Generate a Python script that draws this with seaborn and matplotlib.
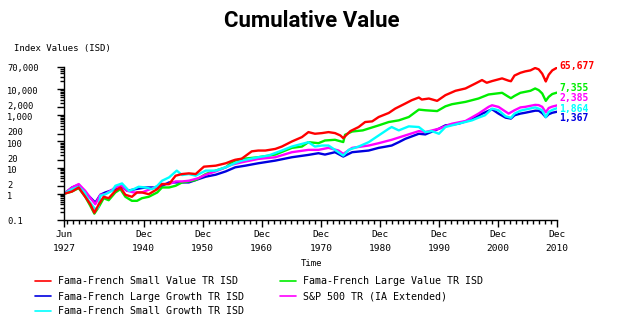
import numpy as np
import pandas as pd
import matplotlib
matplotlib.use("Agg")
import matplotlib.pyplot as plt
from matplotlib.lines import Line2D
from matplotlib.ticker import FixedLocator, FixedFormatter, NullFormatter
from matplotlib.transforms import ScaledTranslation
import seaborn as sns

# ---------------- data ----------------
sv_years = [1927.5, 1928.86, 1929.99, 1931.1, 1931.96, 1932.64, 1933.4, 1934.22, 1935.07, 1936.2,
            1937.05, 1937.9, 1939.0, 1939.87, 1940.7, 1941.85, 1943.3, 1944.1, 1945.3, 1946.4,
            1947.5, 1948.65, 1949.8, 1951.2, 1953.2, 1954.9, 1955.9, 1956.5, 1957.6, 1959.3,
            1960.4, 1961.6, 1963.3, 1964.4, 1966.1, 1967.8, 1968.9, 1970.0, 1971.2, 1972.3,
            1973.4, 1974.3, 1974.8, 1976.0, 1977.4, 1978.5, 1979.7, 1980.8, 1982.5, 1983.6,
            1985.3, 1986.4, 1987.6, 1988.1, 1989.3, 1990.7, 1992.1, 1993.8, 1995.5, 1997.2,
            1998.3, 1999.1, 2000.0, 2001.7, 2002.8, 2003.2, 2003.8, 2004.8, 2005.6, 2006.5,
            2007.3, 2007.9, 2008.5, 2008.9, 2009.1, 2009.6, 2010.2, 2010.99]
sv_vals = [1.0, 1.23, 1.75, 0.77, 0.40, 0.19, 0.40, 0.77, 0.68, 1.30,
           1.75, 0.92, 0.77, 1.13, 1.13, 0.97, 1.51, 2.36, 2.36, 4.92,
           5.7, 6.05, 5.7, 10.9, 11.9, 14.7, 18, 20, 22, 42,
           45, 45, 52, 64, 100, 147, 228, 197, 209, 228,
           209, 170, 134, 249, 356, 553, 587, 861, 1227, 1803,
           2810, 3776, 4780, 4003, 4375, 3557, 5875, 8630, 10600, 16500,
           22200, 17500, 20300, 25700, 21000, 20000, 33000, 42000, 47500, 52000,
           64000, 57000, 38700, 24800, 19600, 35400, 52000, 65677]

lv_years = [1927.5, 1928.86, 1929.99, 1931.1, 1931.96, 1932.64, 1933.4, 1934.22, 1935.07, 1936.2,
            1937.05, 1937.9, 1939.0, 1939.87, 1940.7, 1941.85, 1943.3, 1944.1, 1945.3, 1946.4,
            1947.5, 1948.65, 1949.8, 1951.5, 1953.2, 1954.9, 1955.9, 1956.5, 1957.6, 1960.4,
            1963.3, 1966.1, 1967.8, 1968.9, 1970.6, 1971.7, 1973.4, 1974.8, 1975.1, 1976.3,
            1978.1, 1980.8, 1982.5, 1984.2, 1985.9, 1987.6, 1988.7, 1990.7, 1992.1, 1993.2,
            1995.5, 1997.7, 1999.4, 2001.7, 2002.8, 2003.2, 2003.8, 2004.8, 2006.5, 2007.3,
            2007.9, 2008.5, 2009.1, 2009.6, 2010.2, 2010.99]
lv_vals = [1.0, 1.23, 1.65, 0.77, 0.345, 0.175, 0.316, 0.68, 0.57, 1.13,
           1.51, 0.77, 0.54, 0.54, 0.68, 0.77, 1.13, 1.75, 1.75, 2.03,
           2.73, 2.98, 3.36, 5.7, 7.7, 10.3, 16, 18.6, 21.5, 25,
           31.6, 57, 64, 94, 86, 109, 116, 95, 180, 240,
           265, 412, 553, 641, 861, 1651, 1557, 1450, 2200, 2650,
           3255, 4375, 6235, 7230, 5070, 4500, 5500, 7230, 8630, 10600,
           9160, 6810, 3560, 5070, 6500, 7355]

lg_years = [1927.5, 1928.86, 1929.99, 1931.1, 1931.96, 1932.8, 1933.66, 1934.5, 1936.2, 1937.33,
            1938.2, 1939.6, 1941.3, 1943.3, 1944.1, 1945.3, 1946.4, 1947.5, 1948.65, 1950.3,
            1951.5, 1953.2, 1954.9, 1956.5, 1958.2, 1960.4, 1963.3, 1966.1, 1968.9, 1970.6,
            1971.7, 1973.4, 1974.8, 1976.3, 1979.1, 1980.8, 1981.9, 1983.0, 1984.2, 1985.3,
            1986.4, 1987.6, 1988.7, 1991.0, 1992.1, 1994.3, 1996.6, 1998.3, 2000.0, 2001.1,
            2002.3, 2003.2, 2003.8, 2004.8, 2005.6, 2007.3, 2007.9, 2008.5, 2009.1, 2009.6,
            2010.2, 2010.99]
lg_vals = [1.0, 1.75, 2.22, 1.13, 0.72, 0.46, 0.92, 1.13, 1.51, 1.86,
           1.30, 1.51, 1.75, 1.75, 2.03, 2.73, 2.73, 2.73, 2.73, 3.67,
           4.51, 5.38, 7.2, 10.3, 11.9, 14.7, 18.6, 25, 30.7, 35.6,
           31.6, 38.9, 26.5, 38.9, 45, 57, 63, 70, 94, 126,
           156, 197, 186, 307, 412, 477, 700, 1150, 1700, 1157,
           812, 750, 1000, 1160, 1250, 1500, 1500, 1200, 850, 1100,
           1250, 1367]

sp_years = [1927.5, 1928.86, 1929.99, 1931.1, 1932.0, 1932.8, 1933.66, 1934.5, 1936.2, 1937.33,
            1938.2, 1939.3, 1940.7, 1941.85, 1943.3, 1944.1, 1945.3, 1946.4, 1947.5, 1948.65,
            1950.3, 1951.5, 1953.2, 1954.9, 1955.9, 1957.6, 1960.4, 1963.3, 1966.1, 1968.9,
            1970.6, 1972.3, 1974.0, 1974.8, 1976.3, 1979.1, 1980.8, 1983.0, 1985.3, 1987.6,
            1988.7, 1991.0, 1993.2, 1995.5, 1997.7, 1999.4, 2000.0, 2001.1, 2002.8, 2003.8,
            2004.8, 2005.6, 2007.3, 2007.9, 2008.5, 2009.1, 2009.6, 2010.2, 2010.99]
sp_vals = [1.0, 1.75, 2.36, 1.3, 0.68, 0.40, 0.92, 0.97, 1.75, 2.03,
           1.30, 1.13, 1.13, 1.43, 1.92, 2.36, 2.36, 2.98, 2.98, 3.16,
           4.0, 5.38, 7.2, 10.3, 13, 16, 21.5, 25, 38.9, 47.8,
           47.8, 57, 45, 33.6, 57, 70, 86, 116, 170, 249,
           228, 307, 477, 605, 1157, 2090, 2420, 2090, 1157, 1557,
           2000, 2100, 2500, 2450, 2100, 1300, 1900, 2150, 2385]

sg_years = [1927.5, 1928.86, 1929.99, 1931.0, 1931.7, 1932.8, 1933.3, 1933.66, 1934.5, 1935.65,
            1936.2, 1937.33, 1938.5, 1939.3, 1940.15, 1941.3, 1942.4, 1943.3, 1944.1, 1945.3,
            1946.6, 1947.5, 1948.65, 1949.8, 1951.5, 1953.2, 1954.9, 1956.5, 1957.6, 1960.4,
            1962.1, 1964.4, 1966.1, 1968.9, 1970.0, 1971.2, 1972.3, 1973.4, 1974.8, 1975.7,
            1977.4, 1979.1, 1980.8, 1982.5, 1983.0, 1984.2, 1985.9, 1987.6, 1988.7, 1989.8,
            1991.0, 1992.1, 1994.3, 1996.6, 1997.7, 1998.8, 2000.0, 2001.1, 2002.3, 2003.2,
            2003.8, 2004.8, 2005.6, 2007.3, 2007.9, 2008.5, 2009.1, 2009.6, 2010.2, 2010.99]
sg_vals = [1.0, 1.51, 1.86, 1.13, 0.54, 0.257, 0.3, 0.84, 0.97, 1.30,
           2.03, 2.5, 1.30, 1.51, 1.86, 1.75, 1.51, 2.03, 3.16, 4.25,
           7.7, 5.22, 5.7, 4.92, 7.7, 7.7, 10.3, 15, 18.6, 25,
           28.9, 45, 64, 94, 64, 70, 70, 47.8, 28.9, 47.8,
           64, 94, 170, 307, 356, 265, 378, 356, 228, 249,
           197, 356, 477, 641, 812, 1000, 1803, 1557, 915, 800,
           1157, 1500, 1650, 2000, 1800, 1550, 850, 1350, 1600, 1864]

series_names = ["Fama-French Small Value TR ISD", "Fama-French Large Growth TR ISD",
                "Fama-French Small Growth TR ISD", "Fama-French Large Value TR ISD",
                "S&P 500 TR (IA Extended)"]
series_colors = ["#ff0000", "#0000e0", "#00ffff", "#00ee00", "#ff00ff"]
end_labels = ["65,677", "1,367", "1,864", "7,355", "2,385"]

x_tick_years = [1927.5, 1941.0, 1951.0, 1961.0, 1971.0, 1981.0, 1991.0, 2001.0, 2011.0]
x_tick_labels = ["Jun\n1927", "Dec\n1940", "Dec\n1950", "Dec\n1960", "Dec\n1970",
                 "Dec\n1980", "Dec\n1990", "Dec\n2000", "Dec\n2010"]
y_tick_vals = [0.1, 1, 2, 10, 20, 100, 200, 1000, 2000, 10000, 70000]
y_tick_labels = ["0.1", "1", "2", "10", "20", "100", "200", "1,000", "2,000", "10,000", "70,000"]

# ---------------- build long table ----------------
all_years = [sv_years, lg_years, sg_years, lv_years, sp_years]
all_vals = [sv_vals, lg_vals, sg_vals, lv_vals, sp_vals]
frames = []
for name, yrs, vals in zip(series_names, all_years, all_vals):
    frames.append(pd.DataFrame({"Year": yrs, "Value": vals, "Series": name}))
df = pd.concat(frames, ignore_index=True)

sns.set_theme(style="white")
plt.rcParams["font.family"] = ["DejaVu Sans Mono", "DejaVu Sans"]
plt.rcParams["text.color"] = "black"
plt.rcParams["xtick.color"] = "black"
plt.rcParams["ytick.color"] = "black"
plt.rcParams["xtick.labelcolor"] = "black"
plt.rcParams["ytick.labelcolor"] = "black"

W, H = 628, 321
fig = plt.figure(figsize=(W / 100, H / 100), dpi=100)
fig.patch.set_facecolor("white")
ax = fig.add_axes([64 / W, 1 - 220 / H, (557 - 64) / W, (220 - 67) / H])
ax.set_facecolor("white")

palette = dict(zip(series_names, series_colors))
draw_order = ["Fama-French Large Growth TR ISD", "Fama-French Large Value TR ISD",
              "S&P 500 TR (IA Extended)", "Fama-French Small Growth TR ISD",
              "Fama-French Small Value TR ISD"]
for name in draw_order:
    sns.lineplot(data=df[df["Series"] == name], x="Year", y="Value", color=palette[name],
                 estimator=None, linewidth=1.7, ax=ax, legend=False)

ax.set_yscale("log")
ax.set_xlim(1927.5, 2011.0)
ax.set_ylim(0.1, 70000)
ax.set_xlabel("")
ax.set_ylabel("")
for s in ["top", "right"]:
    ax.spines[s].set_visible(False)
for s in ["left", "bottom"]:
    ax.spines[s].set_color("black")
    ax.spines[s].set_linewidth(1.0)

# x ticks
ax.xaxis.set_major_locator(FixedLocator(x_tick_years))
ax.xaxis.set_major_formatter(FixedFormatter(x_tick_labels))
ax.xaxis.set_minor_locator(FixedLocator(np.arange(1928, 2011, 1.0)))
ax.tick_params(axis="x", which="major", direction="out", length=5, width=1,
               labelsize=6.8, pad=2.5, bottom=True)
ax.tick_params(axis="x", which="minor", direction="out", length=3, width=1, bottom=True)
for lab in ax.get_xticklabels():
    lab.set_linespacing(1.6)

# y ticks
minor_y = [m * 10.0 ** k for k in range(-1, 5) for m in range(2, 10) if m * 10.0 ** k < 70000]
ax.yaxis.set_major_locator(FixedLocator(y_tick_vals))
ax.yaxis.set_major_formatter(FixedFormatter(y_tick_labels))
ax.yaxis.set_minor_locator(FixedLocator(minor_y))
ax.yaxis.set_minor_formatter(NullFormatter())
ax.tick_params(axis="y", which="major", direction="out", length=5, width=1,
               labelsize=6.3, pad=36, left=True)
ax.tick_params(axis="y", which="minor", direction="out", length=3, width=1, left=True)
fig.canvas.draw()
for lab in ax.get_yticklabels():
    lab.set_horizontalalignment("left")
    txt = lab.get_text()
    if txt.startswith("2"):
        lab.set_transform(lab.get_transform() + ScaledTranslation(0, 1.2 / 72, fig.dpi_scale_trans))
    elif txt.startswith("1"):
        lab.set_transform(lab.get_transform() + ScaledTranslation(0, -1.2 / 72, fig.dpi_scale_trans))

# end-value labels
end_label_y_px = {"65,677": 66, "7,355": 88, "2,385": 98.5, "1,864": 109, "1,367": 118.5}
for name, lab, col in zip(series_names, end_labels, series_colors):
    fig.text(559 / W, 1 - end_label_y_px[lab] / H, lab, color=col, fontsize=7,
             fontweight="bold", ha="left", va="center")

# titles
fig.text(312 / W, 1 - 21 / H, "Cumulative Value", fontsize=16, fontweight="bold",
         ha="center", va="center", family=["Roboto", "DejaVu Sans"], color="black")
fig.text(14 / W, 1 - 48 / H, "Index Values (ISD)", fontsize=6.5, ha="left", va="center")
fig.text(312 / W, 1 - 264 / H, "Time", fontsize=6.5, ha="center", va="center")

# legend
handles = [Line2D([0], [0], color=c, lw=1.2) for c in series_colors]
leg = fig.legend(handles, series_names, ncol=2, loc="upper left",
                 bbox_to_anchor=(30 / W, 1 - 271.5 / H), frameon=False, fontsize=7.2,
                 handlelength=1.6, handletextpad=0.7, columnspacing=3.6,
                 labelspacing=0.5, borderpad=0, labelcolor="black")

fig.savefig("out.png", dpi=100, facecolor="white")
